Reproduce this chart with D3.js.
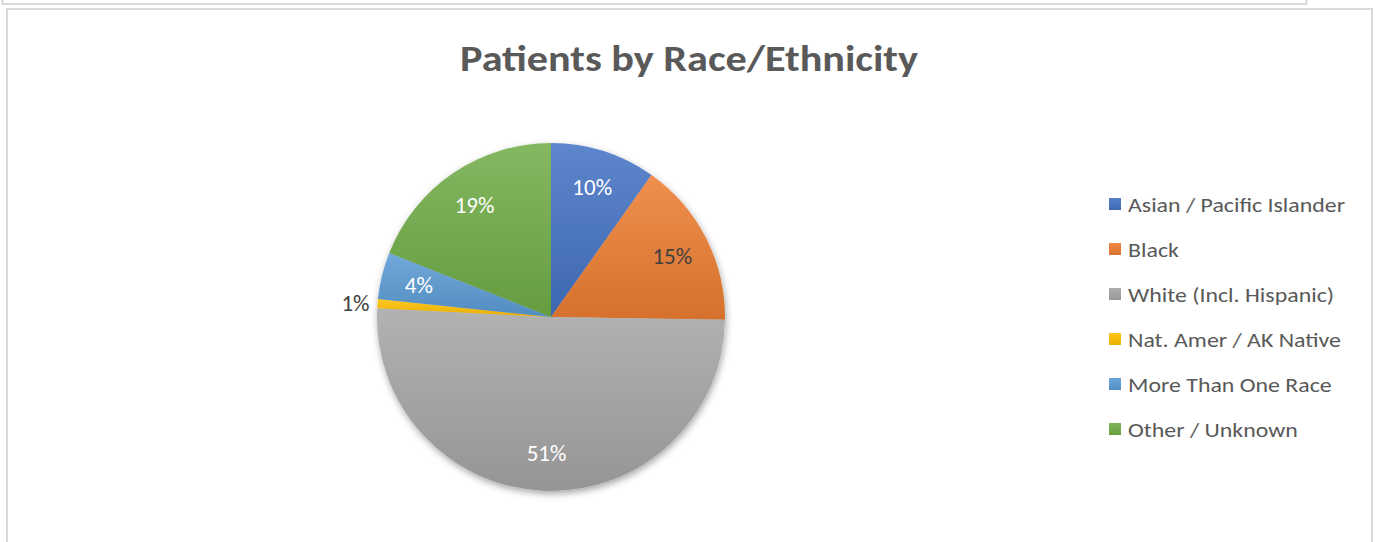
<!DOCTYPE html>
<html>
<head>
<meta charset="utf-8">
<script src="https://cdn.jsdelivr.net/npm/d3@7"></script>
<style>
  body { margin: 0; background: #fff; }
  text { font-family: Carlito, "Open Sans", "Noto Sans", sans-serif; }
</style>
</head>
<body>
<svg id="chart"></svg>
<script>
// dados do gráfico
const categories = ['Asian / Pacific Islander', 'Black', 'White (Incl. Hispanic)',
  'Nat. Amer / AK Native', 'More Than One Race', 'Other / Unknown'];
const shares = [9.8, 15.45, 50.55, 0.85, 4.35, 19.0];
const chartTitle = 'Patients by Race/Ethnicity';

const colors = ['#4472C4', '#ED7D31', '#A5A5A5', '#FFC000', '#5B9BD5', '#70AD47'];
const darkLabel = new Set([1]); // rótulo escuro sobre o laranja

const width = 1380, height = 542;
const cx = 551, cy = 317, radius = 174;

const svg = d3.select('#chart').attr('width', width).attr('height', height);
const defs = svg.append('defs');

// moldura de cima (outro objeto) e moldura do gráfico
svg.append('rect').attr('x', 2.5).attr('y', -10).attr('width', 1304).attr('height', 14)
  .attr('fill', 'none').attr('stroke', '#cfcfcf').attr('stroke-width', 1.5);
svg.append('rect').attr('x', 7).attr('y', 9).attr('width', 1365).attr('height', 560)
  .attr('fill', '#fff').attr('stroke', '#d9d9d9').attr('stroke-width', 2);

// título
svg.append('text')
  .attr('x', 689).attr('y', 71)
  .attr('text-anchor', 'middle')
  .attr('font-size', 37).attr('font-weight', 'bold')
  .attr('fill', '#595959')
  .attr('textLength', 458).attr('lengthAdjust', 'spacingAndGlyphs')
  .text(chartTitle);

// sombra da pizza
const shadow = defs.append('filter').attr('id', 'shadow')
  .attr('x', '-20%').attr('y', '-20%').attr('width', '140%').attr('height', '140%');
shadow.append('feDropShadow').attr('dx', 1).attr('dy', 3).attr('stdDeviation', 3.5)
  .attr('flood-color', '#000').attr('flood-opacity', 0.35);

// gradientes verticais (um por fatia, na caixa da própria fatia)
colors.forEach((c, i) => {
  const g = defs.append('linearGradient').attr('id', 'grad' + i)
    .attr('x1', 0).attr('x2', 0).attr('y1', 0).attr('y2', 1);
  g.append('stop').attr('offset', 0).attr('stop-color', d3.interpolateRgb(c, '#fff')(0.14));
  g.append('stop').attr('offset', 1).attr('stop-color', d3.interpolateRgb(c, '#000')(0.1));
});

const pie = d3.pie().sort(null).value(d => d.v);
const arcs = pie(shares.map((v, i) => ({ v, i })));
const arc = d3.arc().innerRadius(0).outerRadius(radius);
const labelArc = d3.arc().innerRadius(136).outerRadius(136);
const outerArc = d3.arc().innerRadius(radius + 8).outerRadius(radius + 8);

const chartArea = svg.append('g').attr('transform', `translate(${cx},${cy})`);

chartArea.append('g').attr('filter', 'url(#shadow)')
  .selectAll('path')
  .data(arcs)
  .enter()
  .append('path')
  .attr('d', arc)
  .attr('fill', d => `url(#grad${d.data.i})`);

// rótulos de dados
chartArea.selectAll('text.lbl')
  .data(arcs)
  .enter()
  .append('text')
  .attr('class', 'lbl')
  .each(function (d) {
    const small = d.data.v < 2;
    const p = small ? outerArc.centroid(d) : labelArc.centroid(d);
    d3.select(this)
      .attr('x', p[0]).attr('y', p[1])
      .attr('text-anchor', small ? 'end' : 'middle')
      .attr('fill', (small || darkLabel.has(d.data.i)) ? '#404040' : '#fff');
  })
  .attr('dy', '0.35em')
  .attr('font-size', 23)
  .text(d => Math.round(d.data.v) + '%');

// legenda
colors.forEach((c, i) => {
  const g = defs.append('linearGradient').attr('id', 'lg' + i)
    .attr('x1', 0).attr('x2', 0).attr('y1', 0).attr('y2', 1);
  g.append('stop').attr('offset', 0).attr('stop-color', d3.interpolateRgb(c, '#fff')(0.1));
  g.append('stop').attr('offset', 1).attr('stop-color', d3.interpolateRgb(c, '#000')(0.08));
});

const rows = svg.append('g').selectAll('g')
  .data(categories)
  .enter()
  .append('g')
  .attr('transform', (d, i) => `translate(1109, ${204 + i * 45})`);

rows.append('rect').attr('x', 0).attr('y', -6).attr('width', 12).attr('height', 12)
  .attr('fill', (d, i) => `url(#lg${i})`);

const legendText = rows.append('text')
  .attr('x', 19).attr('y', 0).attr('dy', '0.36em')
  .attr('font-size', 21)
  .attr('fill', '#595959')
  .text(d => d);

// ajusta a largura para parecer com a fonte original
const k = 217 / legendText.node().getComputedTextLength();
legendText.each(function () {
  const w = this.getComputedTextLength();
  d3.select(this).attr('textLength', w * k).attr('lengthAdjust', 'spacingAndGlyphs');
});
</script>
</body>
</html>
